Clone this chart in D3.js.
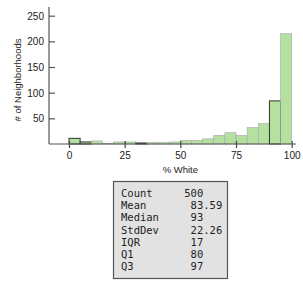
<!DOCTYPE html>
<html>
<head>
<meta charset="utf-8">
<script src="https://cdn.jsdelivr.net/npm/d3@7"></script>
<style>
  body { margin: 0; background: #fff; }
</style>
</head>
<body>
<svg id="chart" width="303" height="288"></svg>
<script>
// histogram bins of % White, width 5
var binStarts = [0, 5, 10, 15, 20, 25, 30, 35, 40, 45, 50, 55, 60, 65, 70, 75, 80, 85, 90, 95];
var binCounts = [11, 4, 6, 1, 4, 4, 2, 3, 3, 4, 7, 7, 10, 17, 22, 17, 32, 40, 84, 215];
var darkEdged = [0, 1, 6, 18];

var xTicks = [0, 25, 50, 75, 100];
var yTicks = [50, 100, 150, 200, 250];

var statNames = ["Count", "Mean", "Median", "StdDev", "IQR", "Q1", "Q3"];
var statValues = ["500", "83.59", "93", "22.26", "17", "80", "97"];

var sansFont = "'Liberation Sans Narrow', 'Liberation Sans', Arial, sans-serif";
var monoFont = "'DejaVu Sans Mono', 'Liberation Mono', monospace";

var svg = d3.select("#chart");

var x = d3.scaleLinear().domain([0, 100]).range([69, 291.7]);
var y = d3.scaleLinear().domain([0, 250]).range([144, 15.7]);

// bars
svg.selectAll("rect.bar")
  .data(binStarts)
  .enter().append("rect")
  .attr("class", "bar")
  .attr("x", function(d) { return x(d); })
  .attr("y", function(d, i) { return y(binCounts[i]); })
  .attr("width", function(d) { return x(d + 5) - x(d); })
  .attr("height", function(d, i) { return y(0) - y(binCounts[i]); })
  .attr("fill", "#b4e0a0")
  .attr("stroke", function(d, i) { return darkEdged.indexOf(i) >= 0 ? "#333" : "#a8a8a8"; })
  .attr("stroke-width", function(d, i) { return darkEdged.indexOf(i) >= 0 ? 1 : 0.6; });

// y axis
var yAxis = d3.axisRight(y).tickValues(yTicks).tickSize(6).tickFormat(d3.format("d"));
var gy = svg.append("g").attr("transform", "translate(49,0)").call(yAxis);
gy.select(".domain").remove();
gy.selectAll("line").attr("stroke", "#555").attr("stroke-width", 1.2);
gy.selectAll("text")
  .attr("x", -5).attr("dy", "0.35em")
  .attr("text-anchor", "end")
  .attr("font-size", 10).attr("fill", "#222")
  .style("font-family", sansFont);
svg.append("line")
  .attr("x1", 49).attr("x2", 49).attr("y1", 7).attr("y2", 144)
  .attr("stroke", "#555").attr("stroke-width", 1.2);

// x axis
var xAxis = d3.axisBottom(x).tickValues(xTicks).tickSize(4).tickFormat(d3.format("d"));
var gx = svg.append("g").attr("transform", "translate(0,144)").call(xAxis);
gx.select(".domain").remove();
gx.selectAll("line").attr("y1", -3).attr("stroke", "#444").attr("stroke-width", 1.2);
gx.selectAll("text")
  .attr("y", 8).attr("dy", "0.71em")
  .attr("font-size", 10).attr("fill", "#222")
  .style("font-family", sansFont);
svg.append("line")
  .attr("x1", 49).attr("x2", 296).attr("y1", 144).attr("y2", 144)
  .attr("stroke", "#555").attr("stroke-width", 1.2);

// axis titles
svg.append("text")
  .attr("x", x(50)).attr("y", 173)
  .attr("text-anchor", "middle")
  .attr("font-size", 9.5).attr("fill", "#222")
  .style("font-family", sansFont)
  .text("% White");
svg.append("text")
  .attr("transform", "translate(21,80) rotate(-90)")
  .attr("text-anchor", "middle")
  .attr("font-size", 9.5).attr("fill", "#222")
  .style("font-family", sansFont)
  .text("# of Neighborhoods");

// summary statistics box
svg.append("rect")
  .attr("x", 113.5).attr("y", 181.5).attr("width", 114).attr("height", 97)
  .attr("fill", "#e2e2e2").attr("stroke", "#555").attr("stroke-width", 1.2);

function padValue(v) {
  var intPart = v.split(".")[0];
  return " ".repeat(Math.max(0, 3 - intPart.length)) + v;
}

svg.selectAll("text.name")
  .data(statNames)
  .enter().append("text")
  .attr("class", "name")
  .attr("x", 121)
  .attr("y", function(d, i) { return 197 + i * 12.2; })
  .attr("font-size", 10.5).attr("fill", "#222")
  .style("font-family", monoFont)
  .text(function(d) { return d; });
svg.selectAll("text.val")
  .data(statValues)
  .enter().append("text")
  .attr("class", "val")
  .attr("x", 184.3 - 6.3 * 0)
  .attr("y", function(d, i) { return 197 + i * 12.2; })
  .attr("font-size", 10.5).attr("fill", "#222")
  .style("font-family", monoFont)
  .style("white-space", "pre")
  .text(function(d) { return padValue(d).slice(0); });
</script>
</body>
</html>
